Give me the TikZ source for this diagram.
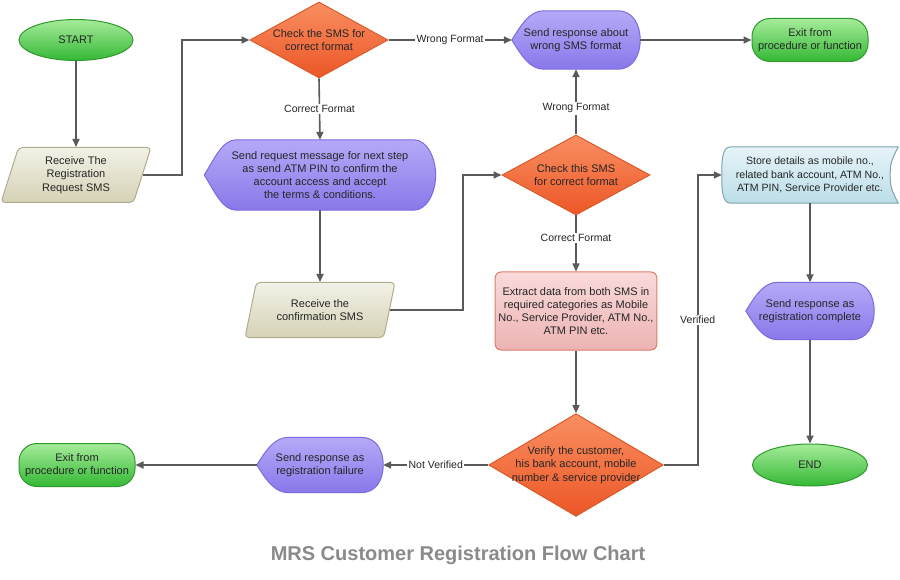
\documentclass[tikz,border=0pt]{standalone}
\usepackage{fontspec}
\setmainfont{Liberation Sans}
\usetikzlibrary{shapes.geometric,arrows.meta,backgrounds}

\definecolor{grntop}{HTML}{A6EC9A}
\definecolor{grnbot}{HTML}{34B834}
\definecolor{grnline}{HTML}{2E9A2E}
\definecolor{orgtop}{HTML}{F98F62}
\definecolor{orgbot}{HTML}{EC5626}
\definecolor{orgline}{HTML}{DA5A2A}
\definecolor{purtop}{HTML}{B4AAF7}
\definecolor{purbot}{HTML}{8878EA}
\definecolor{purline}{HTML}{7C6BE0}
\definecolor{beitop}{HTML}{F2F1E6}
\definecolor{beibot}{HTML}{D5D2B6}
\definecolor{beiline}{HTML}{B0AC8E}
\definecolor{pnktop}{HTML}{F9DADA}
\definecolor{pnkbot}{HTML}{EDB3B3}
\definecolor{pnkline}{HTML}{E07B6B}
\definecolor{blutop}{HTML}{E6F4F8}
\definecolor{blubot}{HTML}{BBDDE8}
\definecolor{bluline}{HTML}{7FA3B3}
\definecolor{flowgray}{HTML}{5A5A5A}
\definecolor{titlegray}{HTML}{8A8A8A}

% display shape round a named node
\newcommand{\dispshape}[1]{%
  \path[dispfill] (#1.west) .. controls +(10,-16) and +(-14,0) .. ([xshift=32pt]#1.north west)
    -- ([xshift=-22pt]#1.north east) .. controls +(14,0) and +(0,-16) .. (#1.east)
    .. controls +(0,16) and +(14,0) .. ([xshift=-22pt]#1.south east)
    -- ([xshift=32pt]#1.south west) .. controls +(-14,0) and +(10,16) .. (#1.west) -- cycle;}
% stored data shape round a named node
\newcommand{\storeshape}[1]{%
  \path[storefill] ([xshift=9pt]#1.north west) -- (#1.north east)
    .. controls +(-7,14) and +(0,-12) .. ([xshift=-8pt]#1.east)
    .. controls +(0,12) and +(-7,-14) .. (#1.south east)
    -- ([xshift=9pt]#1.south west) .. controls +(-9,0) and +(0,14) .. (#1.west)
    .. controls +(0,-14) and +(-9,0) .. ([xshift=9pt]#1.north west) -- cycle;}

\begin{document}
\begin{tikzpicture}[x=1pt,y=-1pt,
  every node/.style={font=\fontsize{11}{13.2}\selectfont, text=black!85, align=center},
  flow/.style={draw=flowgray, line width=1.6pt, -{Triangle[length=8pt,width=7pt]}},
  lbl/.style={fill=white, inner sep=1.5pt, font=\fontsize{10.5}{12}\selectfont},
  terminal/.style={ellipse, draw=grnline, line width=1pt, top color=grntop, bottom color=grnbot,
    minimum width=114pt, minimum height=41pt},
  exitbox/.style={rectangle, rounded corners=18pt, draw=grnline, line width=1pt,
    top color=grntop, bottom color=grnbot, minimum width=116pt, minimum height=43pt, inner sep=0pt},
  decision/.style={diamond, draw=orgline, line width=1pt, top color=orgtop, bottom color=orgbot,
    inner sep=0pt, aspect=1.8},
  iobox/.style={trapezium, trapezium left angle=68, trapezium right angle=112,
    trapezium stretches body, rounded corners=4pt, draw=beiline, line width=1pt,
    top color=beitop, bottom color=beibot, minimum width=150pt, minimum height=55pt},
  procbox/.style={rectangle, rounded corners=6pt, draw=pnkline, line width=1pt,
    top color=pnktop, bottom color=pnkbot, minimum width=160pt, minimum height=78pt},
  dispnode/.style={minimum height=57pt, inner sep=0pt},
  dispfill/.style={draw=purline, line width=1pt, top color=purtop, bottom color=purbot},
  storefill/.style={draw=bluline, line width=1pt, top color=blutop, bottom color=blubot}]

  \useasboundingbox (0,0) rectangle (900,580);

  % Draw top row
  \node[terminal] (start) at (76,40) {START};
  \node[decision, minimum width=138pt, minimum height=76pt] (chk1) at (319,40) {Check the SMS for\\correct format};
  \node[dispnode, minimum width=128pt, minimum height=58pt] (resp1) at (576,40) {Send response about\\wrong SMS format};
  \node[exitbox] (exit1) at (810,40) {Exit from\\procedure or function};

  % Draw middle rows
  \node[iobox] (recv1) at (76,175) {Receive The\\Registration\\Request SMS};
  \node[dispnode, minimum width=231pt, minimum height=70pt] (req) at (320,175) {Send request message for next step\\as send ATM PIN to confirm the\\account access and accept\\the terms \& conditions.};
  \node[decision, minimum width=148pt, minimum height=80pt] (chk2) at (576,175) {Check this SMS\\for correct format};
  \node[minimum width=176pt, minimum height=56pt, inner sep=0pt, font=\fontsize{10.6}{13.2}\selectfont] (store) at (810,175) {Store details as mobile no.,\\related bank account, ATM No.,\\ATM PIN, Service Provider etc.};
  \node[iobox] (recv2) at (320,310) {Receive the\\confirmation SMS};
  \node[procbox] (extract) at (576,311) {Extract data from both SMS in\\required categories as Mobile\\No., Service Provider, ATM No.,\\ATM PIN etc.};
  \node[dispnode, minimum width=128pt] (resp3) at (810,311) {Send response as\\registration complete};

  % Draw bottom row
  \node[exitbox] (exit2) at (77,465) {Exit from\\procedure or function};
  \node[dispnode, minimum width=126pt, minimum height=55pt] (resp4) at (320,465) {Send response as\\registration failure};
  \node[decision, minimum width=173pt, minimum height=102pt, inner sep=-3pt, aspect=1.7] (verify) at (576,465) {Verify the customer,\\his bank account, mobile\\number \& service provider};
  \node[terminal, minimum width=115pt, minimum height=42pt] (end) at (810,465) {END};

  % Draw title
  \node[font=\fontsize{20}{24}\bfseries\selectfont, text=titlegray] (title) at (458,555) {MRS Customer Registration Flow Chart};

  % Draw shapes behind the text
  \begin{scope}[on background layer]
    \fill[white] (0,0) rectangle (900,580);
    \dispshape{resp1}
    \dispshape{req}
    \dispshape{resp3}
    \dispshape{resp4}
    \storeshape{store}
  \end{scope}

  % Draw arrows
  \draw[flow] (start) -- (recv1);
  \draw[flow] (recv1.east) -- ++(39,0) |- (chk1.west);
  \draw[flow] (chk1.east) -- node[lbl]{Wrong Format} (resp1.west);
  \draw[flow] (resp1.east) -- (exit1.west);
  \draw[flow] (chk1.south) -- node[lbl]{Correct Format} (req.north);
  \draw[flow] (req.south) -- (recv2.north);
  \draw[flow] (recv2.east) -- ++(73,0) |- (chk2.west);
  \draw[flow] (chk2.north) -- node[lbl,pos=0.4]{Wrong Format} (resp1.south);
  \draw[flow] (chk2.south) -- node[lbl,pos=0.4]{Correct Format} (extract.north);
  \draw[flow] (extract.south) -- (verify.north);
  \draw[flow] (verify.east) -- ++(34,0) |- node[lbl,pos=0.25]{Verified} (store.west);
  \draw[flow] (store.south) -- (resp3.north);
  \draw[flow] (resp3.south) -- (end.north);
  \draw[flow] (verify.west) -- node[lbl]{Not Verified} (resp4.east);
  \draw[flow] (resp4.west) -- (exit2.east);
\end{tikzpicture}
\end{document}
